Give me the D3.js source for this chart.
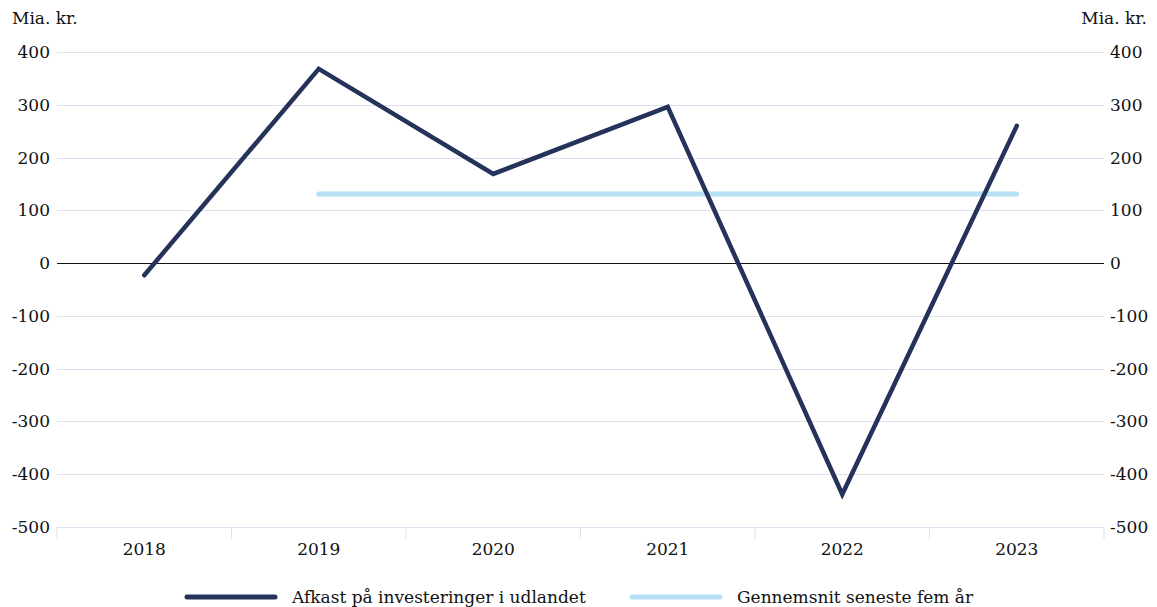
<!DOCTYPE html>
<html>
<head>
<meta charset="utf-8">
<script src="https://cdn.jsdelivr.net/npm/d3@7"></script>
<style>
  html, body { margin: 0; padding: 0; background: #fff; }
  svg { display: block; font-family: "DejaVu Serif", "Liberation Serif", serif; }
</style>
</head>
<body>
<svg id="chart" width="1157" height="607"></svg>
<script>
// Annual return on foreign investments (billion DKK) and its five-year average
const years = ["2018", "2019", "2020", "2021", "2022", "2023"];
const afkast = [-23, 368, 169, 296, -438, 260];
const avgYears = ["2019", "2023"];
const avgValues = [131, 131];
const yTicks = [400, 300, 200, 100, 0, -100, -200, -300, -400, -500];
const seriesNames = ["Afkast på investeringer i udlandet", "Gennemsnit seneste fem år"];
const seriesColors = ["#25325a", "#b7e0f7"];

const FONT = "DejaVu Serif, Liberation Serif, serif";
const FS = 17;

const svg = d3.select("#chart");
const margin = { left: 57, right: 1104, top: 52, bottom: 527 };

const x = d3.scaleBand().domain(years).range([margin.left, margin.right]).padding(0);
const y = d3.scaleLinear().domain([-500, 400]).range([margin.bottom, margin.top]);
const cx = d => x(d) + x.bandwidth() / 2;

// horizontal gridlines
svg.append("g")
  .attr("shape-rendering", "crispEdges")
  .selectAll("line")
  .data(yTicks)
  .join("line")
  .attr("x1", margin.left)
  .attr("x2", margin.right)
  .attr("y1", d => Math.round(y(d)) + 0.5)
  .attr("y2", d => Math.round(y(d)) + 0.5)
  .attr("stroke", d => d === 0 ? "#111" : "#dedff0")
  .attr("stroke-width", 1);

// y axes, both sides
const fmt = d => d < 0 ? "-" + Math.abs(d) : String(d);
const leftAxis = svg.append("g")
  .attr("transform", `translate(${margin.left - 7},0)`)
  .call(d3.axisLeft(y).tickValues(yTicks).tickSize(0).tickPadding(0).tickFormat(fmt));
const rightAxis = svg.append("g")
  .attr("transform", `translate(${margin.right + 6},0)`)
  .call(d3.axisRight(y).tickValues(yTicks).tickSize(0).tickPadding(0).tickFormat(fmt));
[leftAxis, rightAxis].forEach(g => {
  g.select(".domain").remove();
  g.selectAll("text")
    .attr("font-family", FONT)
    .attr("font-size", FS)
    .attr("fill", "#111");
});

// x axis with category separators
const xAxis = svg.append("g")
  .attr("transform", `translate(0,${margin.bottom})`)
  .call(d3.axisBottom(x).tickSize(0).tickPadding(16));
xAxis.select(".domain").attr("stroke", "#dedff0");
xAxis.selectAll("text")
  .attr("font-family", FONT)
  .attr("font-size", FS)
  .attr("fill", "#111");
const bounds = years.map(d => x(d)).concat([x(years[years.length - 1]) + x.bandwidth()]);
svg.append("g")
  .selectAll("line")
  .data(bounds)
  .join("line")
  .attr("x1", d => d).attr("x2", d => d)
  .attr("y1", margin.bottom).attr("y2", margin.bottom + 12)
  .attr("stroke", "#dedff0");

// unit labels
svg.append("text").attr("x", 12).attr("y", 24)
  .attr("font-size", FS).attr("fill", "#111").text("Mia. kr.");
svg.append("text").attr("x", 1147).attr("y", 24).attr("text-anchor", "end")
  .attr("font-size", FS).attr("fill", "#111").text("Mia. kr.");

// five-year average line
const line = d3.line().x(d => cx(d[0])).y(d => y(d[1]));
svg.append("path")
  .datum(avgYears.map((d, i) => [d, avgValues[i]]))
  .attr("d", line)
  .attr("fill", "none")
  .attr("stroke", seriesColors[1])
  .attr("stroke-width", 5)
  .attr("stroke-linecap", "round");

// return line
svg.append("path")
  .datum(years.map((d, i) => [d, afkast[i]]))
  .attr("d", line)
  .attr("fill", "none")
  .attr("stroke", seriesColors[0])
  .attr("stroke-width", 4.5)
  .attr("stroke-linecap", "round")
  .attr("stroke-linejoin", "miter");

// legend
const legendItems = [
  { name: seriesNames[0], color: seriesColors[0], x: 187 },
  { name: seriesNames[1], color: seriesColors[1], x: 632 }
];
const lg = svg.append("g").selectAll("g").data(legendItems).join("g")
  .attr("transform", d => `translate(${d.x},597)`);
lg.append("line")
  .attr("x1", 0).attr("x2", 88).attr("y1", 0).attr("y2", 0)
  .attr("stroke", d => d.color).attr("stroke-width", 5).attr("stroke-linecap", "round");
lg.append("text")
  .attr("x", 105).attr("y", 6)
  .attr("font-size", FS).attr("fill", "#111")
  .text(d => d.name);
</script>
</body>
</html>
